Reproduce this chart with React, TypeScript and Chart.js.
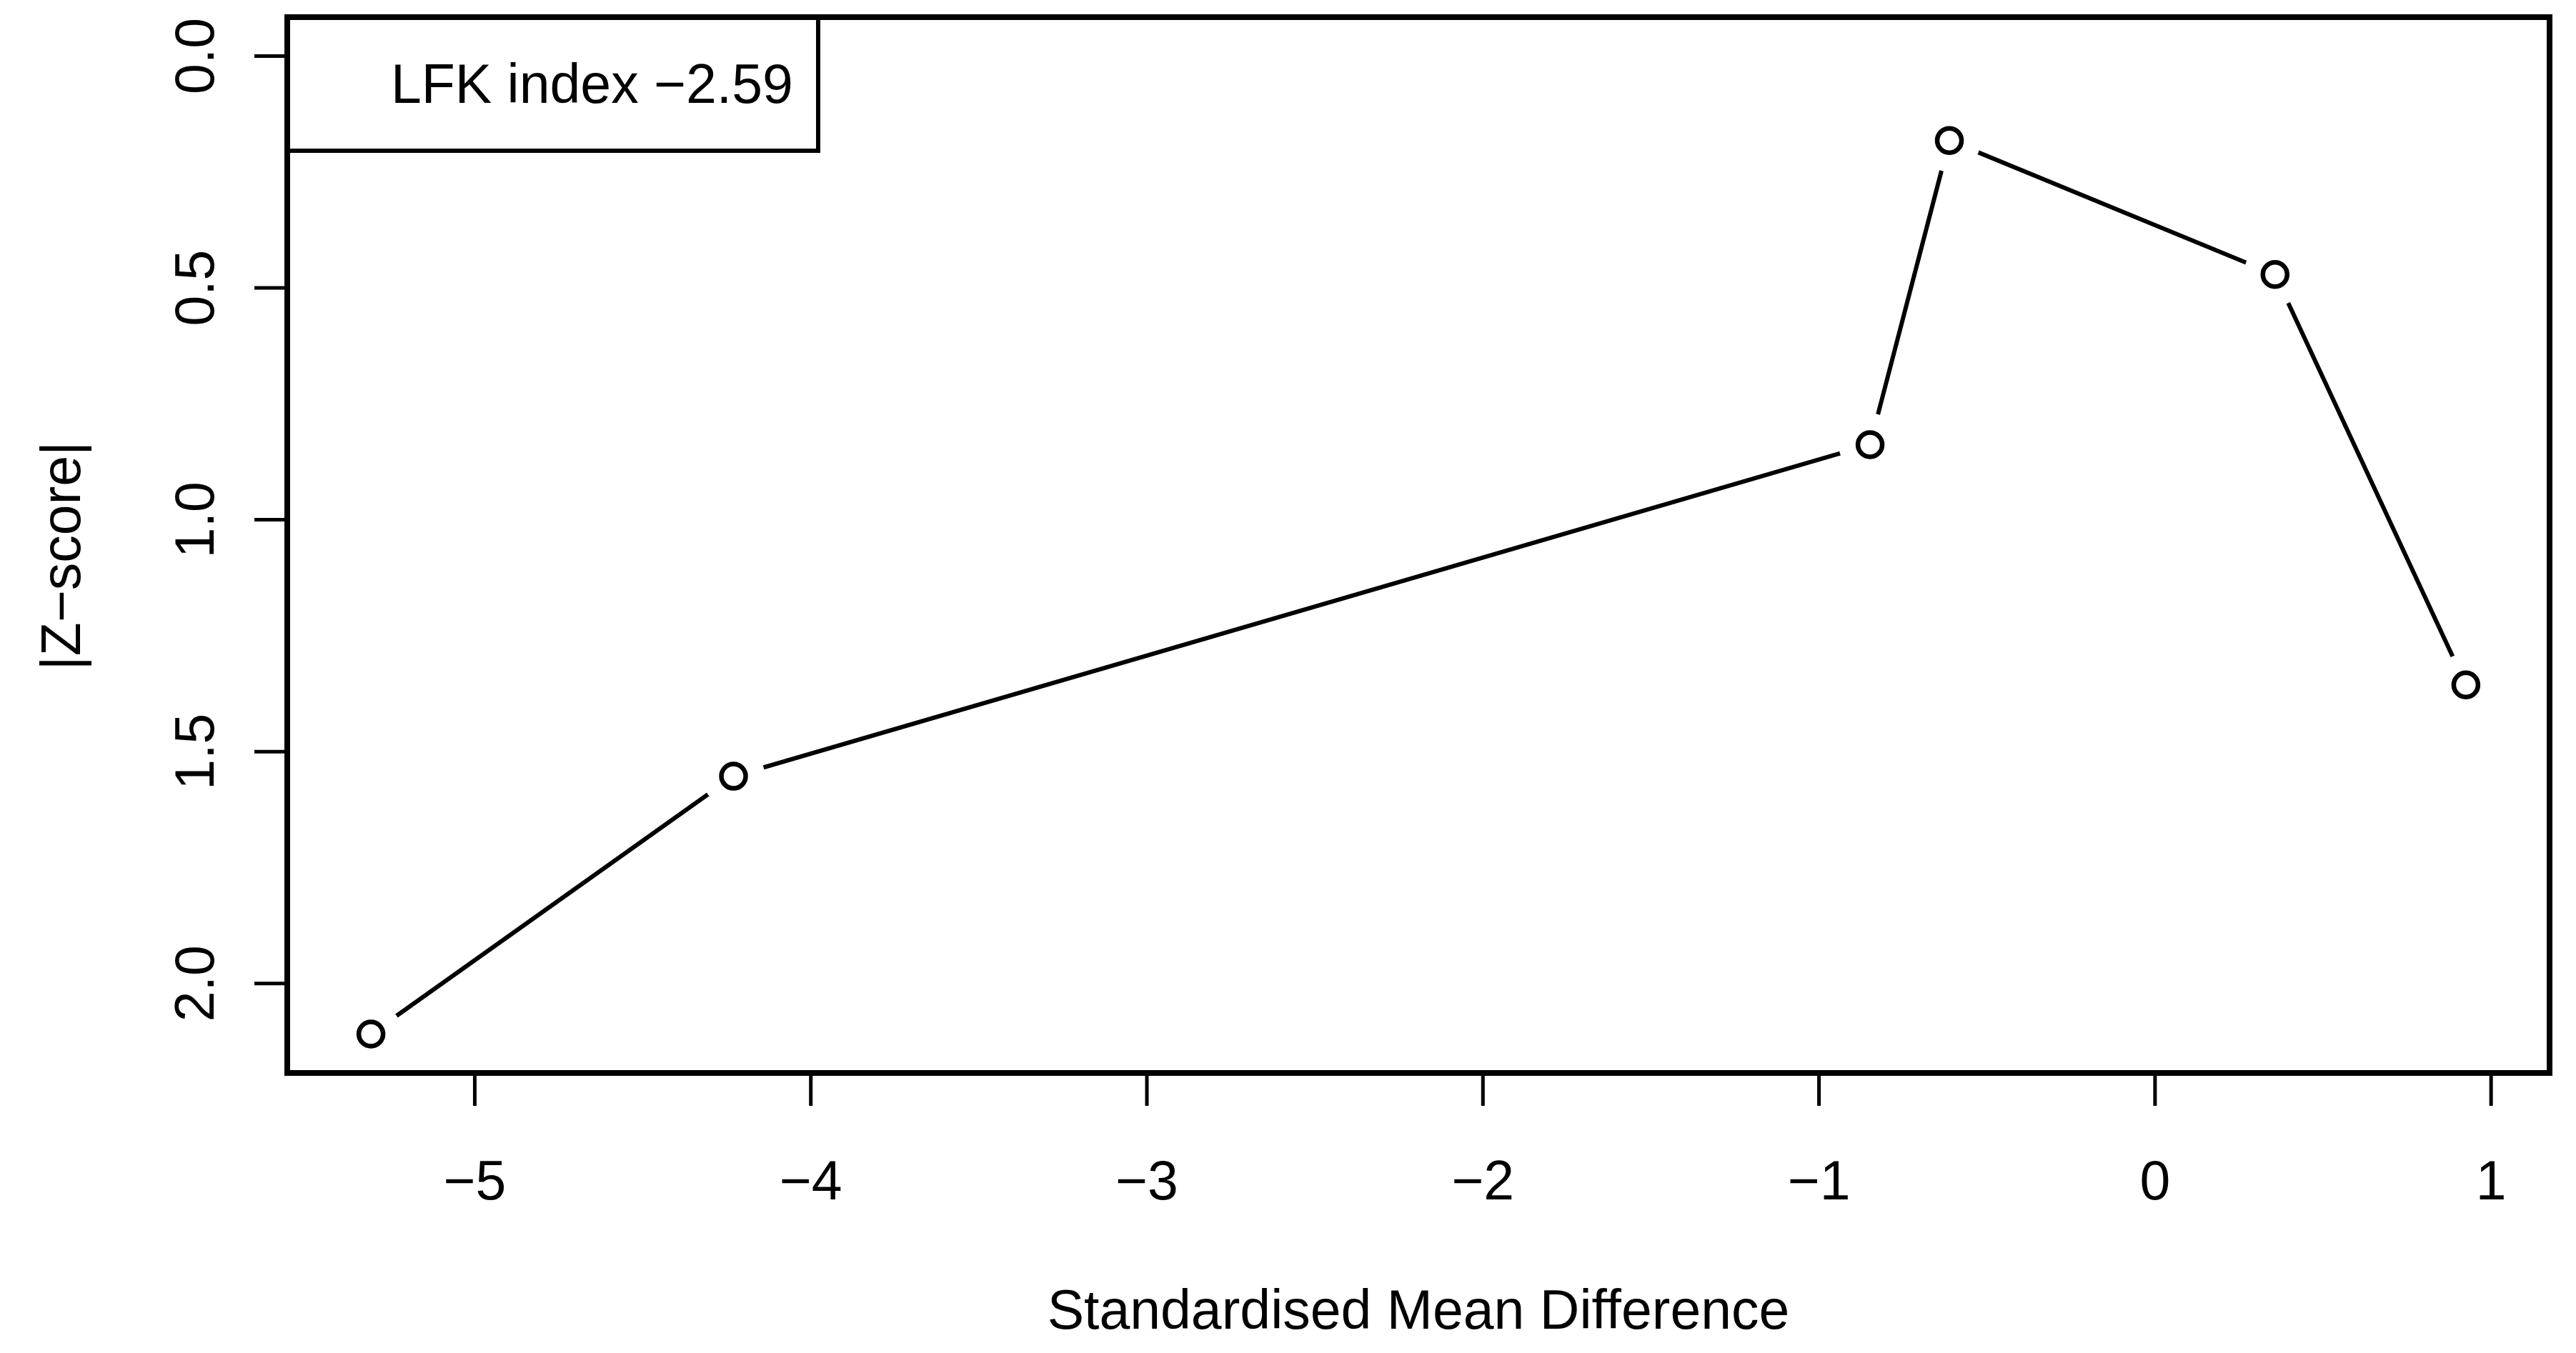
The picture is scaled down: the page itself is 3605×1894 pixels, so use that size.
import React, { useEffect, useRef } from "react";
import { Chart, registerables } from "chart.js";

Chart.register(...registerables);

// ---- data ----
const SMD = [-5.309, -4.23, -0.848, -0.612, 0.357, 0.925];
const ZSCORE = [2.109, 1.553, 0.838, 0.182, 0.471, 1.356];
const X_TICKS = [-5, -4, -3, -2, -1, 0, 1];
const Y_TICKS = [0, 0.5, 1, 1.5, 2];
const Y_TICK_LABELS = ["0.0", "0.5", "1.0", "1.5", "2.0"];
const X_TITLE = "Standardised Mean Difference";
const Y_TITLE = "|Z\u2212score|";
const LEGEND_TEXT = "LFK index \u22122.59";

const X_MIN = -5.558;
const X_MAX = 1.174;
const Y_MIN = -0.084;
const Y_MAX = 2.193;

const W = 3605;
const H = 1894;
const FONT = '77px "Liberation Sans", Arial, sans-serif';

const fmt = (v: number) => (v < 0 ? "\u2212" + Math.abs(v) : String(v));

const decorPlugin = {
  id: "rdecor",
  beforeDraw(chart: any) {
    const ctx = chart.ctx;
    ctx.save();
    ctx.fillStyle = "#ffffff";
    ctx.fillRect(0, 0, chart.width, chart.height);
    ctx.restore();
  },
  afterDraw(chart: any) {
    const ctx = chart.ctx as CanvasRenderingContext2D;
    const { left, right, top, bottom } = chart.chartArea;
    const xs = chart.scales.x;
    const ys = chart.scales.y;
    ctx.save();
    ctx.strokeStyle = "#000";
    ctx.fillStyle = "#000";
    ctx.lineCap = "butt";

    // box
    ctx.lineWidth = 8;
    ctx.strokeRect(left, top, right - left, bottom - top);

    // x ticks
    ctx.lineWidth = 5;
    ctx.font = FONT;
    ctx.textAlign = "center";
    ctx.textBaseline = "alphabetic";
    X_TICKS.forEach((v) => {
      const px = xs.getPixelForValue(v);
      ctx.beginPath();
      ctx.moveTo(px, bottom);
      ctx.lineTo(px, bottom + 46);
      ctx.stroke();
      ctx.fillText(fmt(v), px, 1679);
    });

    // y ticks
    Y_TICKS.forEach((v, i) => {
      const py = ys.getPixelForValue(v);
      ctx.beginPath();
      ctx.moveTo(left, py);
      ctx.lineTo(left - 46, py);
      ctx.stroke();
      ctx.save();
      ctx.translate(299, py);
      ctx.rotate(-Math.PI / 2);
      ctx.fillText(Y_TICK_LABELS[i], 0, 0);
      ctx.restore();
    });

    // axis titles
    ctx.fillText(X_TITLE, (left + right) / 2, 1860);
    ctx.save();
    ctx.translate(112, 778);
    ctx.rotate(-Math.PI / 2);
    ctx.fillText(Y_TITLE, 0, 0);
    ctx.restore();

    // legend
    ctx.lineWidth = 6;
    ctx.strokeRect(left, top, 1145 - left, 211 - top);
    ctx.textAlign = "left";
    ctx.fillText(LEGEND_TEXT, 547, 144);

    ctx.restore();
  },
};

export default function App() {
  const ref = useRef<HTMLCanvasElement | null>(null);
  useEffect(() => {
    if (!ref.current) return;
    const pts = SMD.map((x, i) => ({ x, y: ZSCORE[i] }));
    const chart = new Chart(ref.current, {
      type: "line",
      data: {
        datasets: [
          {
            label: "points",
            data: pts,
            showLine: false,
            pointRadius: 17,
            pointBorderWidth: 6.5,
            pointBorderColor: "#000",
            pointBackgroundColor: "rgba(0,0,0,0)",
            pointHoverRadius: 17,
            order: 1,
          },
          {
            label: "line",
            data: pts,
            borderColor: "#000",
            borderWidth: 6,
            tension: 0,
            fill: false,
            pointRadius: 44,
            pointBorderWidth: 0,
            pointBorderColor: "#fff",
            pointBackgroundColor: "#fff",
            pointHoverRadius: 44,
            order: 2,
          },
        ],
      },
      options: {
        responsive: false,
        devicePixelRatio: 1,
        animation: false,
        events: [],
        layout: {
          autoPadding: false,
          padding: { left: 402, right: W - 3568, top: 24, bottom: H - 1502 },
        },
        plugins: { legend: { display: false }, tooltip: { enabled: false } },
        scales: {
          x: { type: "linear", min: X_MIN, max: X_MAX, display: false },
          y: { type: "linear", min: Y_MIN, max: Y_MAX, reverse: true, display: false },
        },
      },
      plugins: [decorPlugin],
    });
    return () => chart.destroy();
  }, []);
  return (
    <div style={{ position: "fixed", left: 0, top: 0, width: W, height: H, background: "#fff" }}>
      <canvas ref={ref} width={W} height={H} style={{ width: W, height: H, display: "block" }} />
    </div>
  );
}
